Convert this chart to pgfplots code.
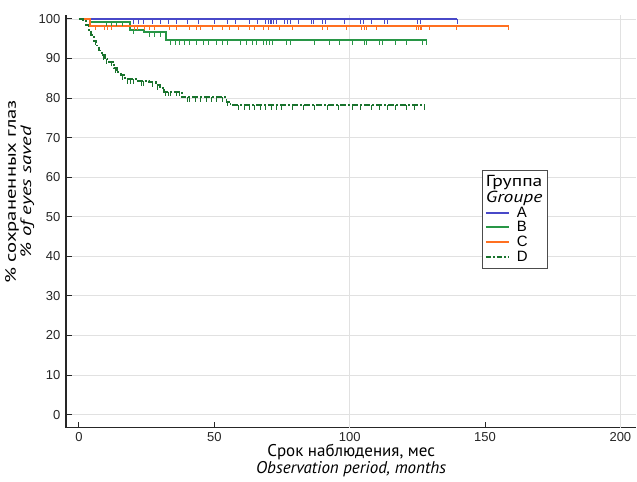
\documentclass[border=0pt]{standalone}
\usepackage{pgfplots}
\pgfplotsset{compat=1.18}
\usepackage{fontspec}
\setmainfont{Liberation Sans}
\newfontfamily\labfont{PT Sans}
\definecolor{cA}{RGB}{72,72,200}
\definecolor{cB}{RGB}{40,150,70}
\definecolor{cC}{RGB}{255,112,32}
\definecolor{cD}{RGB}{25,115,45}
\definecolor{gridc}{RGB}{225,225,225}
\begin{document}
\begin{tikzpicture}
\begin{axis}[
  scale only axis,
  width=571pt, height=413pt,
  xmin=-4.8, xmax=205.9, ymin=-3.28, ymax=101,
  axis x line*=bottom, axis y line*=left,
  axis line style={line width=1.3pt, black!85},
  xtick={0,50,100,150,200},
  ytick={0,10,...,100},
  tick align=inside,
  major tick length=6pt,
  tick style={line width=1pt, black!85},
  ymajorgrids,
  grid style={gridc, line width=0.8pt},
  extra x ticks={100,200},
  extra x tick labels={},
  extra x tick style={xmajorgrids, major tick length=0pt},
  tick label style={font=\fontsize{13}{14}\selectfont, text=black!85},
  yticklabel style={xshift=-2pt},
  xticklabel style={yshift=-1pt},
  /pgf/number format/assume math mode=true,
  every axis x label/.style={at={(axis description cs:0.5,0)}, anchor=north, yshift=-13pt},
  every axis y label/.style={at={(axis description cs:-0.0797,0.571)}, rotate=90, anchor=center},
  xlabel={\labfont\fontsize{17}{17}\selectfont\begin{tabular}{@{}c@{}}Срок наблюдения, мес\\\itshape Observation period, months\end{tabular}},
  ylabel={\scalebox{1.38}[1]{\labfont\fontsize{15}{15}\selectfont\begin{tabular}{@{}c@{}}\% сохраненных глаз\\\itshape \% of eyes saved\end{tabular}}},
  legend style={at={(0.7286,0.6247)}, anchor=north west, draw=black!70, line width=0.8pt,
    font=\fontsize{15}{15}\selectfont, inner xsep=3pt, inner ysep=3pt, row sep=-1pt, cells={anchor=west}},
  legend cell align=left,
  legend image code/.code={\draw[#1] (0pt,0pt) -- (23pt,0pt);},
]
\addlegendimage{empty legend}\addlegendentry{\hspace{-26pt}\scalebox{1.22}[1]{\labfont\fontsize{16}{16}\selectfont Группа}}
\addlegendimage{empty legend}\addlegendentry{\hspace{-26pt}\scalebox{1.22}[1]{\labfont\fontsize{16}{16}\selectfont\itshape Groupe}}
\addlegendimage{cA, line width=2pt}\addlegendentry{\hspace{5pt}A}
\addlegendimage{cB, line width=2pt}\addlegendentry{\hspace{5pt}B}
\addlegendimage{cC, line width=2pt}\addlegendentry{\hspace{5pt}C}
\addlegendimage{cD, line width=2pt, dash pattern=on 5pt off 2pt on 2pt off 2pt}\addlegendentry{\hspace{5pt}D}
% step curves
\addplot[const plot, cA, line width=2pt, forget plot] coordinates {(0,100) (139.7,100)};
\addplot[cB, line width=2pt, const plot, forget plot] coordinates {(0,100) (4,99.3) (19,97.3) (24,96.6) (32,94.6) (128.5,94.6)};
\addplot[cC, line width=2pt, const plot, forget plot] coordinates {(0,100) (4,98.3) (158.7,98.3)};
\addplot[cD, line width=1.8pt, const plot, forget plot, dash pattern=on 6pt off 2pt on 2pt off 2pt] coordinates {
(0,100) (1.5,99.5) (2.5,98.5) (3.5,97.3) (4.5,96) (5.5,94.5) (6.5,93.3) (7.5,92) (8.5,90.8) (9.5,89.8) (11,89.2) (13,87.5) (14,86.5) (15.5,85.8) (17,84.8) (21,84.3) (26,84) (28.5,83.3) (30,82.6) (31.5,81.6) (38,80.2) (54.5,79.1) (56,78.2) (128,78.2)};
% censor marks
\addplot[only marks, cA, mark=|, mark size=2.3pt, mark options={line width=1pt, yshift=-2.3pt}, forget plot] coordinates {
(20,100) (22,100) (24,100) (27,100) (30,100) (33,100) (36,100) (40,100) (44,100) (50,100) (55,100) (58,100) (63,100) (66,100) (69,100) (70,100) (70.6,100) (71.3,100) (72,100) (73,100) (76,100) (77,100) (78,100) (81,100) (86,100) (86.7,100) (90,100) (91,100) (98,100) (104,100) (105,100) (108,100) (113,100) (114,100) (125,100) (126,100) (139.7,100)};
\addplot[only marks, cC, mark=|, mark size=2.3pt, mark options={line width=1pt, yshift=-2.3pt}, forget plot] coordinates {
(6,98.3) (9.6,98.3) (10.7,98.3) (12,98.3) (20.7,98.3) (21.8,98.3) (24.4,98.3) (26,98.3) (28,98.3) (33.6,98.3) (36,98.3) (41,98.3) (43.5,98.3) (45,98.3) (49.4,98.3) (53,98.3) (55.7,98.3) (59,98.3) (63,98.3) (65,98.3) (68,98.3) (70,98.3) (74,98.3) (79,98.3) (90,98.3) (92,98.3) (99,98.3) (104.4,98.3) (105.5,98.3) (106.3,98.3) (110,98.3) (124.7,98.3) (125.3,98.3) (126,98.3) (126.6,98.3) (129.5,98.3) (139.5,98.3) (158.7,98.3)};
\addplot[only marks, cB, mark=|, mark size=2.3pt, mark options={line width=1pt, yshift=-2.3pt}, forget plot] coordinates {
(10,99.3) (12,99.3) (14,99.3) (16,99.3) (20,97.3) (26,96.6) (28,96.6) (30,96.6) (34,94.6) (35.5,94.6) (37,94.6) (39,94.6) (41,94.6) (43.5,94.6) (46,94.6) (48,94.6) (51,94.6) (53,94.6) (55,94.6) (59.5,94.6) (62,94.6) (64,94.6) (65.7,94.6) (68,94.6) (69.4,94.6) (70.5,94.6) (71.6,94.6) (76.8,94.6) (78,94.6) (87,94.6) (92.6,94.6) (96.3,94.6) (101,94.6) (105.5,94.6) (106.3,94.6) (111,94.6) (112,94.6) (117,94.6) (121,94.6) (127,94.6) (128.5,94.6)};
\addplot[only marks, cD, mark=|, mark size=2.3pt, mark options={line width=1pt, yshift=-2.3pt}, forget plot] coordinates {
(6,94.5) (9,90.8) (10,89.8) (12,89.2) (13.5,87.5) (16,85.8) (18,84.8) (19,84.8) (20,84.8) (23,84.3) (24,84.3) (27,84) (29,83.3) (32,81.6) (33,81.6) (34,81.6) (36,81.6) (37,81.6) (40,80.2) (41,80.2) (43,80.2) (45,80.2) (47,80.2) (49,80.2) (51,80.2) (53,80.2) (55,79.1) (59,78.2) (61,78.2) (63,78.2) (65,78.2) (67,78.2) (69,78.2) (71,78.2) (73,78.2) (75,78.2) (79,78.2) (83,78.2) (87,78.2) (92,78.2) (96,78.2) (101,78.2) (104,78.2) (108,78.2) (111,78.2) (114,78.2) (117,78.2) (121,78.2) (124,78.2) (127.5,78.2)};
\end{axis}
\path ([xshift=-66pt,yshift=-51pt]current axis.south west) rectangle ([yshift=15pt]current axis.north east);
\end{tikzpicture}
\end{document}
